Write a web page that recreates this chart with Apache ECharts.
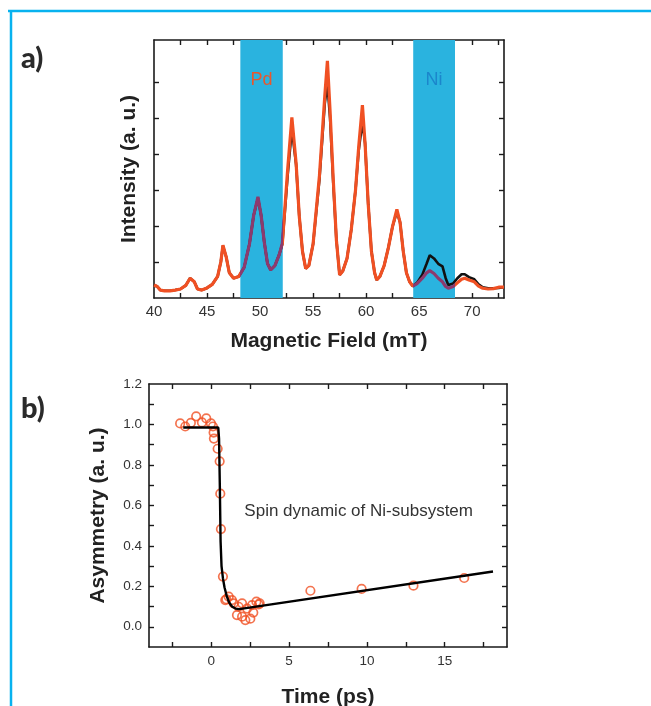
<!DOCTYPE html>
<html><head><meta charset="utf-8">
<script src="https://cdn.jsdelivr.net/npm/echarts@6/dist/echarts.min.js"></script>
<style>html,body{margin:0;padding:0;background:#fff}#c{width:651px;height:706px}</style>
</head><body><div id="c"></div><script>
// ---- Panel a) data ----
const field = [40.0,40.3,40.6,41.0,41.5,42.0,42.5,43.0,43.4,43.8,44.1,44.5,45.0,45.5,
  46.0,46.3,46.5,46.8,47.1,47.5,48.0,48.5,49.0,49.4,49.8,50.1,50.4,50.7,51.0,
  51.4,51.8,52.1,52.6,53.0,53.4,53.7,54.0,54.3,
  54.6,55.0,55.6,56.1,56.35,56.6,56.9,57.2,57.5,
  57.8,58.2,58.6,59.0,59.3,59.65,59.9,60.2,60.5,60.8,61.0,
  61.3,61.7,62.1,62.5,62.9,63.2,63.5,63.8,64.1,64.4,
  64.8,65.3,65.7,66.0,66.4,66.8,67.2,67.5,67.75,68.2,68.6,69.0,69.3,69.7,70.2,70.6,71.0,71.5,72.0,72.5,73.0];
const intensityRed = [0.36,0.32,0.22,0.2,0.2,0.22,0.25,0.35,0.55,0.45,0.25,0.22,0.28,0.38,
  0.6,1.0,1.47,1.15,0.7,0.55,0.6,0.85,1.5,2.3,2.81,2.3,1.55,0.96,0.78,
  0.9,1.2,1.52,3.56,5.02,3.74,2.26,1.3,0.82,
  0.9,1.5,3.4,5.6,6.59,5.2,3.3,1.6,0.64,
  0.75,1.1,1.9,3.0,4.2,5.36,4.3,2.6,1.3,0.7,0.5,
  0.6,0.9,1.4,2.0,2.46,2.1,1.3,0.7,0.45,0.33,
  0.4,0.55,0.7,0.76,0.68,0.55,0.45,0.32,0.27,0.32,0.42,0.52,0.55,0.5,0.45,0.33,0.27,0.25,0.26,0.3,0.3];
const intensityBlack = [0.36,0.32,0.22,0.2,0.2,0.22,0.25,0.35,0.55,0.45,0.25,0.22,0.28,0.38,
  0.6,1.0,1.45,1.15,0.7,0.55,0.6,0.85,1.5,2.3,2.78,2.3,1.55,0.96,0.78,
  0.9,1.2,1.5,3.4,4.7,3.7,2.26,1.3,0.82,
  0.9,1.5,3.3,5.4,5.95,5.0,3.2,1.6,0.64,
  0.75,1.1,1.9,3.0,4.1,4.9,4.3,2.6,1.3,0.7,0.5,
  0.6,0.9,1.4,2.0,2.4,2.1,1.3,0.7,0.45,0.33,
  0.42,0.65,0.95,1.19,1.1,0.95,0.88,0.55,0.36,0.4,0.55,0.66,0.66,0.58,0.52,0.38,0.3,0.27,0.27,0.28,0.3];
const fieldLabels = [40,45,50,55,60,65,70];
const fieldTicks = [42.5,45,47.5,50,52.5,55,57.5,60,62.5,65,67.5,70,72.5];
const intensityTicks = [1,2,3,4,5,6];
const bandNames = ['Pd','Ni'];
const bandStart = [48.14,64.44];
const bandEnd = [52.14,68.38];

// ---- Panel b) data ----
const time = [-2.0,-1.67,-1.31,-0.97,-0.6,-0.32,-0.02,0.11,0.15,0.17,0.41,0.54,0.58,0.62,0.75,
  0.9,0.97,1.12,1.33,1.44,1.65,1.76,1.98,1.98,2.19,2.3,2.51,2.62,2.7,2.9,3.05,3.11,
  6.37,9.66,12.99,16.25];
const asym = [1.005,0.99,1.008,1.04,1.01,1.03,1.005,0.99,0.96,0.93,0.88,0.818,0.658,0.483,0.248,
  0.132,0.136,0.149,0.132,0.116,0.058,0.099,0.05,0.116,0.033,0.09,0.04,0.107,0.07,0.124,0.11,0.116,
  0.178,0.187,0.203,0.241];
const fitTime = [-1.8,0.45,0.5,0.55,0.6,0.66,0.75,0.85,1.0,1.15,1.33,1.55,1.8,18.1];
const fitAsym = [0.985,0.985,0.93,0.7,0.42,0.3,0.24,0.195,0.15,0.12,0.1,0.09,0.087,0.273];
const timeLabels = [0,5,10,15];
const timeTicks = [-2.5,0,2.5,5,7.5,10,12.5,15,17.5];
const asymLabels = [0,0.2,0.4,0.6,0.8,1.0,1.2];
const asymTicks = [0,0.1,0.2,0.3,0.4,0.5,0.6,0.7,0.8,0.9,1.0,1.1];

const RED = '#f05023', PURPLE = '#8c3a6e', BLUE = '#2ab3df', INK = '#1a1a1a';
const FONT = 'Liberation Sans';

function frameAxis(extra) {
  return Object.assign({
    type: 'value',
    axisLine: { show: true, onZero: false, lineStyle: { color: INK, width: 1.6 } },
    splitLine: { show: false },
    axisTick: { inside: true, length: 5, lineStyle: { color: INK, width: 1.4 } },
    axisLabel: { show: false }
  }, extra);
}

const chart = echarts.init(document.getElementById('c'));
chart.setOption({
  backgroundColor: '#fff',
  animation: false,
  grid: [
    { left: 154, top: 40, width: 350, height: 258, containLabel: false, outerBoundsMode: 'none' },
    { left: 149, top: 384, width: 358, height: 263, containLabel: false, outerBoundsMode: 'none' }
  ],
  xAxis: [
    frameAxis({ gridIndex: 0, min: 40, max: 73, position: 'bottom',
      axisTick: { inside: true, length: 5, customValues: fieldTicks, lineStyle: { color: INK, width: 1.4 } },
      axisLabel: { show: true, customValues: fieldLabels, fontFamily: FONT, fontSize: 15, color: '#333', margin: 6 },
      name: 'Magnetic Field (mT)', nameLocation: 'middle', nameGap: 33,
      nameTextStyle: { fontFamily: FONT, fontWeight: 'bold', fontSize: 21, color: '#222' } }),
    frameAxis({ gridIndex: 0, min: 40, max: 73, position: 'top',
      axisTick: { inside: true, length: 5, customValues: fieldTicks, lineStyle: { color: INK, width: 1.4 } } }),
    frameAxis({ gridIndex: 1, min: -4, max: 19, position: 'bottom',
      axisTick: { inside: true, length: 5, customValues: timeTicks, lineStyle: { color: INK, width: 1.4 } },
      axisLabel: { show: true, customValues: timeLabels, fontFamily: FONT, fontSize: 13.5, color: '#333', margin: 7 },
      name: 'Time (ps)', nameLocation: 'middle', nameGap: 40,
      nameTextStyle: { fontFamily: FONT, fontWeight: 'bold', fontSize: 21, color: '#222' } }),
    frameAxis({ gridIndex: 1, min: -4, max: 19, position: 'top',
      axisTick: { inside: true, length: 5, customValues: timeTicks, lineStyle: { color: INK, width: 1.4 } } })
  ],
  yAxis: [
    frameAxis({ gridIndex: 0, min: 0, max: 7.17, position: 'left',
      axisTick: { inside: true, length: 5, customValues: intensityTicks, lineStyle: { color: INK, width: 1.4 } },
      name: 'Intensity (a. u.)', nameLocation: 'middle', nameGap: 14,
      nameTextStyle: { fontFamily: FONT, fontWeight: 'bold', fontSize: 21, color: '#222' } }),
    frameAxis({ gridIndex: 0, min: 0, max: 7.17, position: 'right',
      axisTick: { inside: true, length: 5, customValues: intensityTicks, lineStyle: { color: INK, width: 1.4 } } }),
    frameAxis({ gridIndex: 1, min: -0.1, max: 1.2, position: 'left',
      axisTick: { inside: true, length: 5, customValues: asymTicks, lineStyle: { color: INK, width: 1.4 } },
      axisLabel: { show: true, customValues: asymLabels, fontFamily: FONT, fontSize: 13.5, color: '#333', margin: 7,
        formatter: v => v.toFixed(1) },
      name: 'Asymmetry (a. u.)', nameLocation: 'middle', nameGap: 40,
      nameTextStyle: { fontFamily: FONT, fontWeight: 'bold', fontSize: 21, color: '#222' } }),
    frameAxis({ gridIndex: 1, min: -0.1, max: 1.2, position: 'right',
      axisTick: { inside: true, length: 5, customValues: asymTicks, lineStyle: { color: INK, width: 1.4 } } })
  ],
  visualMap: [{
    type: 'piecewise', show: false, dimension: 0, seriesIndex: 2,
    pieces: [
      { lt: bandStart[0], color: RED },
      { gte: bandStart[0], lte: bandEnd[0], color: PURPLE },
      { gt: bandEnd[0], lt: bandStart[1], color: RED },
      { gte: bandStart[1], lte: bandEnd[1], color: PURPLE },
      { gt: bandEnd[1], color: RED }
    ]
  }],
  series: [
    { type: 'line', xAxisIndex: 0, yAxisIndex: 0, z: 1, silent: true,
      data: [[field[0], intensityRed[0]]], symbol: 'none', lineStyle: { opacity: 0 },
      markArea: {
        silent: true,
        itemStyle: { color: BLUE, opacity: 1 },
        data: bandNames.map((n, i) => [
          { xAxis: bandStart[i], name: n,
            label: { show: true, position: 'insideTop', distance: 31, fontFamily: FONT, fontSize: 18,
              color: i === 0 ? '#e9572c' : '#1b86cc', formatter: n } },
          { xAxis: bandEnd[i] }
        ])
      } },
    { type: 'line', xAxisIndex: 0, yAxisIndex: 0, z: 3, symbol: 'none',
      data: field.map((x, i) => [x, intensityBlack[i]]),
      lineStyle: { color: '#111', width: 2.6 } },
    { type: 'line', xAxisIndex: 0, yAxisIndex: 0, z: 4, symbol: 'none',
      data: field.map((x, i) => [x, intensityRed[i]]),
      lineStyle: { width: 3.2 } },
    { type: 'scatter', xAxisIndex: 2, yAxisIndex: 2, z: 3,
      data: time.map((t, i) => [t, asym[i]]),
      symbol: 'circle', symbolSize: 8.5,
      itemStyle: { color: 'rgba(255,255,255,0)', borderColor: RED, borderWidth: 1.7 } },
    { type: 'line', xAxisIndex: 2, yAxisIndex: 2, z: 4, symbol: 'none',
      data: fitTime.map((t, i) => [t, fitAsym[i]]),
      lineStyle: { color: '#000', width: 2.4 },
      markPoint: {
        silent: true, symbol: 'circle', symbolSize: 0,
        data: [{ coord: [9.47, 0.57], value: 'Spin dynamic of Ni-subsystem' }],
        label: { show: true, position: 'inside', fontFamily: FONT, fontSize: 17, color: '#333',
          formatter: 'Spin dynamic of Ni-subsystem' }
      } }
  ],
  graphic: [
    { type: 'line', shape: { x1: 8, y1: 11, x2: 651, y2: 11 }, style: { stroke: '#08b2ef', lineWidth: 2.5 } },
    { type: 'line', shape: { x1: 11, y1: 10, x2: 11, y2: 706 }, style: { stroke: '#08b2ef', lineWidth: 2.5 } },
    { type: 'text', left: 21, top: 44, style: { text: 'a)', font: '900 29px Lato', fill: '#2a2a2a' } },
    { type: 'text', left: 21, top: 394, style: { text: 'b)', font: '900 29px Lato', fill: '#2a2a2a' } }
  ]
});
</script></body></html>
